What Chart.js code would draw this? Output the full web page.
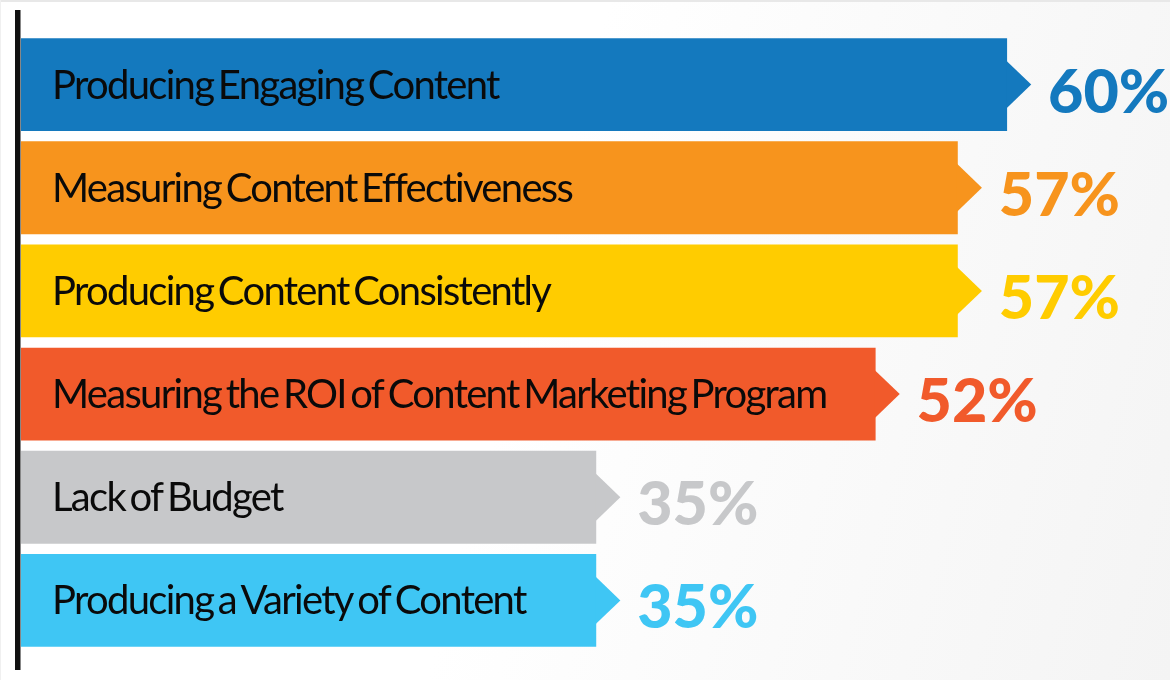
<!DOCTYPE html>
<html>
<head>
<meta charset="utf-8">
<script src="https://cdn.jsdelivr.net/npm/chart.js@4/dist/chart.umd.min.js"></script>
<style>
  html, body { margin: 0; padding: 0; }
  body {
    width: 1170px; height: 680px; overflow: hidden;
    background: linear-gradient(105deg, #ffffff 45%, #f4f4f4 100%);
  }
  #wrap { position: relative; width: 1170px; height: 680px; }
  #topline { position: absolute; left: 0; top: 0; width: 1170px; height: 2px; background: #e8e8e8; }
  #leftline { position: absolute; left: 0; top: 0; width: 1px; height: 680px; background: #f0f0f0; }
  canvas { position: absolute; left: 0; top: 0; }
</style>
</head>
<body>
<div id="wrap"><div id="topline"></div><div id="leftline"></div><canvas id="c" width="1170" height="680"></canvas></div>
<script>
const categories = [
  "Producing Engaging Content",
  "Measuring Content Effectiveness",
  "Producing Content Consistently",
  "Measuring the ROI of Content Marketing Program",
  "Lack of Budget",
  "Producing a Variety of Content"
];
const values = [60, 57, 57, 52, 35, 35];
const barColors = ["#1479be", "#f7941d", "#ffcc00", "#f15a2b", "#c7c8ca", "#3fc6f4"];
const valueLabels = ["60%", "57%", "57%", "52%", "35%", "35%"];

const decorPlugin = {
  id: 'decor',
  beforeDatasetsDraw(chart) {
    const { ctx, chartArea } = chart;
    ctx.save();
    ctx.fillStyle = '#111111';
    ctx.fillRect(chartArea.left - 6, chartArea.top - 23, 5.5, chartArea.bottom - chartArea.top + 41);
    ctx.restore();
  },
  afterDatasetsDraw(chart) {
    const { ctx, chartArea } = chart;
    const meta = chart.getDatasetMeta(0);
    ctx.save();
    meta.data.forEach((bar, i) => {
      const h = bar.height;
      const a = h * 0.26;
      ctx.fillStyle = barColors[i];
      ctx.beginPath();
      ctx.moveTo(bar.x - 1, bar.y - a);
      ctx.lineTo(bar.x + a, bar.y);
      ctx.lineTo(bar.x - 1, bar.y + a);
      ctx.closePath();
      ctx.fill();

      ctx.fillStyle = '#0a0a0a';
      ctx.font = '40px Lato';
      ctx.letterSpacing = '-1.7px';
      ctx.wordSpacing = '-4px';
      ctx.textBaseline = 'alphabetic';
      ctx.textAlign = 'left';
      ctx.fillText(categories[i], chartArea.left + 31, bar.y + 14);

      ctx.fillStyle = barColors[i];
      ctx.font = '900 61px Lato';
      ctx.letterSpacing = '0px';
      ctx.wordSpacing = '0px';
      ctx.fillText(valueLabels[i], bar.x + 41, bar.y + 28);
    });
    ctx.restore();
  }
};

new Chart(document.getElementById('c'), {
  type: 'bar',
  data: {
    labels: categories,
    datasets: [{
      data: values,
      backgroundColor: barColors,
      borderWidth: 0,
      categoryPercentage: 1,
      barPercentage: 0.9
    }]
  },
  options: {
    indexAxis: 'y',
    responsive: false,
    animation: false,
    layout: { padding: { left: 21, right: 15, top: 33, bottom: 28 } },
    scales: {
      x: { type: 'linear', display: false, min: 0, max: 69 },
      y: { type: 'category', display: false }
    },
    plugins: { legend: { display: false }, tooltip: { enabled: false } }
  },
  plugins: [decorPlugin]
});
</script>
</body>
</html>
